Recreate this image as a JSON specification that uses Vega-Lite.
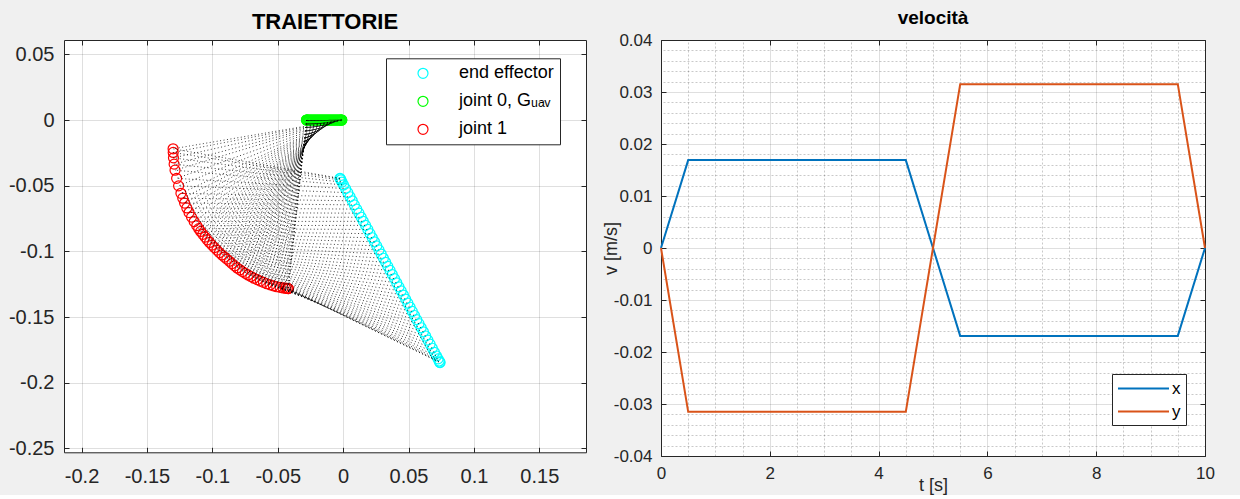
{
  "$schema": "https://vega.github.io/schema/vega-lite/v6.json",
  "background": "#f0f0f0",
  "padding": {"left": 8, "top": 9, "right": 25, "bottom": 1},
  "config": {
    "font": "Liberation Sans",
    "view": {"stroke": null, "fill": "white"},
    "concat": {"spacing": 15}
  },
  "resolve": {"scale": {"color": "independent"}, "legend": {"color": "independent"}},
  "datasets": {
    "arm": [
      {"k":0,"j":0,"joint":"joint 0","x":-0.0010,"y":0},{"k":0,"j":1,"joint":"joint 1","x":-0.1300,"y":-0.0219},{"k":0,"j":2,"joint":"end effector","x":-0.0024,"y":-0.0444},
      {"k":1,"j":0,"joint":"joint 0","x":-0.0011,"y":0},{"k":1,"j":1,"joint":"joint 1","x":-0.1299,"y":-0.0247},{"k":1,"j":2,"joint":"end effector","x":-0.0022,"y":-0.0447},
      {"k":2,"j":0,"joint":"joint 0","x":-0.0012,"y":0},{"k":2,"j":1,"joint":"joint 1","x":-0.1297,"y":-0.0288},{"k":2,"j":2,"joint":"end effector","x":-0.0017,"y":-0.0456},
      {"k":3,"j":0,"joint":"joint 0","x":-0.0015,"y":0},{"k":3,"j":1,"joint":"joint 1","x":-0.1292,"y":-0.0336},{"k":3,"j":2,"joint":"end effector","x":-0.0009,"y":-0.0472},
      {"k":4,"j":0,"joint":"joint 0","x":-0.0020,"y":0},{"k":4,"j":1,"joint":"joint 1","x":-0.1285,"y":-0.0382},{"k":4,"j":2,"joint":"end effector","x":0.0003,"y":-0.0494},
      {"k":5,"j":0,"joint":"joint 0","x":-0.0025,"y":0},{"k":5,"j":1,"joint":"joint 1","x":-0.1273,"y":-0.0444},{"k":5,"j":2,"joint":"end effector","x":0.0019,"y":-0.0522},
      {"k":6,"j":0,"joint":"joint 0","x":-0.0031,"y":0},{"k":6,"j":1,"joint":"joint 1","x":-0.1258,"y":-0.0501},{"k":6,"j":2,"joint":"end effector","x":0.0036,"y":-0.0553},
      {"k":7,"j":0,"joint":"joint 0","x":-0.0037,"y":0},{"k":7,"j":1,"joint":"joint 1","x":-0.1240,"y":-0.0558},{"k":7,"j":2,"joint":"end effector","x":0.0053,"y":-0.0584},
      {"k":8,"j":0,"joint":"joint 0","x":-0.0043,"y":0},{"k":8,"j":1,"joint":"joint 1","x":-0.1226,"y":-0.0595},{"k":8,"j":2,"joint":"end effector","x":0.0070,"y":-0.0615},
      {"k":9,"j":0,"joint":"joint 0","x":-0.0049,"y":0},{"k":9,"j":1,"joint":"joint 1","x":-0.1212,"y":-0.0632},{"k":9,"j":2,"joint":"end effector","x":0.0086,"y":-0.0646},
      {"k":10,"j":0,"joint":"joint 0","x":-0.0055,"y":0},{"k":10,"j":1,"joint":"joint 1","x":-0.1195,"y":-0.0669},{"k":10,"j":2,"joint":"end effector","x":0.0104,"y":-0.0678},
      {"k":11,"j":0,"joint":"joint 0","x":-0.0061,"y":0},{"k":11,"j":1,"joint":"joint 1","x":-0.1178,"y":-0.0704},{"k":11,"j":2,"joint":"end effector","x":0.0121,"y":-0.0709},
      {"k":12,"j":0,"joint":"joint 0","x":-0.0067,"y":0},{"k":12,"j":1,"joint":"joint 1","x":-0.1159,"y":-0.0739},{"k":12,"j":2,"joint":"end effector","x":0.0138,"y":-0.0740},
      {"k":13,"j":0,"joint":"joint 0","x":-0.0073,"y":0},{"k":13,"j":1,"joint":"joint 1","x":-0.1139,"y":-0.0773},{"k":13,"j":2,"joint":"end effector","x":0.0154,"y":-0.0771},
      {"k":14,"j":0,"joint":"joint 0","x":-0.0079,"y":0},{"k":14,"j":1,"joint":"joint 1","x":-0.1119,"y":-0.0804},{"k":14,"j":2,"joint":"end effector","x":0.0172,"y":-0.0802},
      {"k":15,"j":0,"joint":"joint 0","x":-0.0085,"y":0},{"k":15,"j":1,"joint":"joint 1","x":-0.1104,"y":-0.0827},{"k":15,"j":2,"joint":"end effector","x":0.0189,"y":-0.0833},
      {"k":16,"j":0,"joint":"joint 0","x":-0.0091,"y":0},{"k":16,"j":1,"joint":"joint 1","x":-0.1089,"y":-0.0848},{"k":16,"j":2,"joint":"end effector","x":0.0206,"y":-0.0865},
      {"k":17,"j":0,"joint":"joint 0","x":-0.0097,"y":0},{"k":17,"j":1,"joint":"joint 1","x":-0.1073,"y":-0.0870},{"k":17,"j":2,"joint":"end effector","x":0.0223,"y":-0.0896},
      {"k":18,"j":0,"joint":"joint 0","x":-0.0103,"y":0},{"k":18,"j":1,"joint":"joint 1","x":-0.1056,"y":-0.0891},{"k":18,"j":2,"joint":"end effector","x":0.0240,"y":-0.0927},
      {"k":19,"j":0,"joint":"joint 0","x":-0.0109,"y":0},{"k":19,"j":1,"joint":"joint 1","x":-0.1039,"y":-0.0912},{"k":19,"j":2,"joint":"end effector","x":0.0257,"y":-0.0958},
      {"k":20,"j":0,"joint":"joint 0","x":-0.0115,"y":0},{"k":20,"j":1,"joint":"joint 1","x":-0.1021,"y":-0.0932},{"k":20,"j":2,"joint":"end effector","x":0.0274,"y":-0.0989},
      {"k":21,"j":0,"joint":"joint 0","x":-0.0121,"y":0},{"k":21,"j":1,"joint":"joint 1","x":-0.1003,"y":-0.0952},{"k":21,"j":2,"joint":"end effector","x":0.0291,"y":-0.1020},
      {"k":22,"j":0,"joint":"joint 0","x":-0.0127,"y":0},{"k":22,"j":1,"joint":"joint 1","x":-0.0984,"y":-0.0971},{"k":22,"j":2,"joint":"end effector","x":0.0308,"y":-0.1052},
      {"k":23,"j":0,"joint":"joint 0","x":-0.0133,"y":0},{"k":23,"j":1,"joint":"joint 1","x":-0.0965,"y":-0.0990},{"k":23,"j":2,"joint":"end effector","x":0.0325,"y":-0.1083},
      {"k":24,"j":0,"joint":"joint 0","x":-0.0139,"y":0},{"k":24,"j":1,"joint":"joint 1","x":-0.0946,"y":-0.1009},{"k":24,"j":2,"joint":"end effector","x":0.0342,"y":-0.1114},
      {"k":25,"j":0,"joint":"joint 0","x":-0.0145,"y":0},{"k":25,"j":1,"joint":"joint 1","x":-0.0926,"y":-0.1027},{"k":25,"j":2,"joint":"end effector","x":0.0359,"y":-0.1145},
      {"k":26,"j":0,"joint":"joint 0","x":-0.0151,"y":0},{"k":26,"j":1,"joint":"joint 1","x":-0.0907,"y":-0.1043},{"k":26,"j":2,"joint":"end effector","x":0.0376,"y":-0.1176},
      {"k":27,"j":0,"joint":"joint 0","x":-0.0157,"y":0},{"k":27,"j":1,"joint":"joint 1","x":-0.0889,"y":-0.1059},{"k":27,"j":2,"joint":"end effector","x":0.0393,"y":-0.1207},
      {"k":28,"j":0,"joint":"joint 0","x":-0.0163,"y":0},{"k":28,"j":1,"joint":"joint 1","x":-0.0869,"y":-0.1075},{"k":28,"j":2,"joint":"end effector","x":0.0410,"y":-0.1239},
      {"k":29,"j":0,"joint":"joint 0","x":-0.0169,"y":0},{"k":29,"j":1,"joint":"joint 1","x":-0.0850,"y":-0.1093},{"k":29,"j":2,"joint":"end effector","x":0.0427,"y":-0.1270},
      {"k":30,"j":0,"joint":"joint 0","x":-0.0175,"y":0},{"k":30,"j":1,"joint":"joint 1","x":-0.0830,"y":-0.1110},{"k":30,"j":2,"joint":"end effector","x":0.0444,"y":-0.1301},
      {"k":31,"j":0,"joint":"joint 0","x":-0.0181,"y":0},{"k":31,"j":1,"joint":"joint 1","x":-0.0810,"y":-0.1126},{"k":31,"j":2,"joint":"end effector","x":0.0461,"y":-0.1332},
      {"k":32,"j":0,"joint":"joint 0","x":-0.0187,"y":0},{"k":32,"j":1,"joint":"joint 1","x":-0.0789,"y":-0.1140},{"k":32,"j":2,"joint":"end effector","x":0.0478,"y":-0.1363},
      {"k":33,"j":0,"joint":"joint 0","x":-0.0193,"y":0},{"k":33,"j":1,"joint":"joint 1","x":-0.0769,"y":-0.1154},{"k":33,"j":2,"joint":"end effector","x":0.0495,"y":-0.1394},
      {"k":34,"j":0,"joint":"joint 0","x":-0.0199,"y":0},{"k":34,"j":1,"joint":"joint 1","x":-0.0748,"y":-0.1167},{"k":34,"j":2,"joint":"end effector","x":0.0512,"y":-0.1425},
      {"k":35,"j":0,"joint":"joint 0","x":-0.0205,"y":0},{"k":35,"j":1,"joint":"joint 1","x":-0.0727,"y":-0.1179},{"k":35,"j":2,"joint":"end effector","x":0.0529,"y":-0.1457},
      {"k":36,"j":0,"joint":"joint 0","x":-0.0211,"y":0},{"k":36,"j":1,"joint":"joint 1","x":-0.0705,"y":-0.1191},{"k":36,"j":2,"joint":"end effector","x":0.0546,"y":-0.1488},
      {"k":37,"j":0,"joint":"joint 0","x":-0.0217,"y":0},{"k":37,"j":1,"joint":"joint 1","x":-0.0682,"y":-0.1204},{"k":37,"j":2,"joint":"end effector","x":0.0563,"y":-0.1519},
      {"k":38,"j":0,"joint":"joint 0","x":-0.0223,"y":0},{"k":38,"j":1,"joint":"joint 1","x":-0.0657,"y":-0.1215},{"k":38,"j":2,"joint":"end effector","x":0.0580,"y":-0.1550},
      {"k":39,"j":0,"joint":"joint 0","x":-0.0229,"y":0},{"k":39,"j":1,"joint":"joint 1","x":-0.0633,"y":-0.1226},{"k":39,"j":2,"joint":"end effector","x":0.0597,"y":-0.1581},
      {"k":40,"j":0,"joint":"joint 0","x":-0.0235,"y":0},{"k":40,"j":1,"joint":"joint 1","x":-0.0609,"y":-0.1236},{"k":40,"j":2,"joint":"end effector","x":0.0614,"y":-0.1612},
      {"k":41,"j":0,"joint":"joint 0","x":-0.0241,"y":0},{"k":41,"j":1,"joint":"joint 1","x":-0.0584,"y":-0.1246},{"k":41,"j":2,"joint":"end effector","x":0.0631,"y":-0.1644},
      {"k":42,"j":0,"joint":"joint 0","x":-0.0247,"y":0},{"k":42,"j":1,"joint":"joint 1","x":-0.0558,"y":-0.1255},{"k":42,"j":2,"joint":"end effector","x":0.0648,"y":-0.1675},
      {"k":43,"j":0,"joint":"joint 0","x":-0.0253,"y":0},{"k":43,"j":1,"joint":"joint 1","x":-0.0533,"y":-0.1262},{"k":43,"j":2,"joint":"end effector","x":0.0665,"y":-0.1706},
      {"k":44,"j":0,"joint":"joint 0","x":-0.0259,"y":0},{"k":44,"j":1,"joint":"joint 1","x":-0.0508,"y":-0.1269},{"k":44,"j":2,"joint":"end effector","x":0.0682,"y":-0.1737},
      {"k":45,"j":0,"joint":"joint 0","x":-0.0265,"y":0},{"k":45,"j":1,"joint":"joint 1","x":-0.0482,"y":-0.1274},{"k":45,"j":2,"joint":"end effector","x":0.0698,"y":-0.1768},
      {"k":46,"j":0,"joint":"joint 0","x":-0.0270,"y":0},{"k":46,"j":1,"joint":"joint 1","x":-0.0459,"y":-0.1278},{"k":46,"j":2,"joint":"end effector","x":0.0714,"y":-0.1796},
      {"k":47,"j":0,"joint":"joint 0","x":-0.0275,"y":0},{"k":47,"j":1,"joint":"joint 1","x":-0.0441,"y":-0.1280},{"k":47,"j":2,"joint":"end effector","x":0.0726,"y":-0.1818},
      {"k":48,"j":0,"joint":"joint 0","x":-0.0278,"y":0},{"k":48,"j":1,"joint":"joint 1","x":-0.0428,"y":-0.1282},{"k":48,"j":2,"joint":"end effector","x":0.0734,"y":-0.1834},
      {"k":49,"j":0,"joint":"joint 0","x":-0.0279,"y":0},{"k":49,"j":1,"joint":"joint 1","x":-0.0420,"y":-0.1283},{"k":49,"j":2,"joint":"end effector","x":0.0739,"y":-0.1843},
      {"k":50,"j":0,"joint":"joint 0","x":-0.0280,"y":0},{"k":50,"j":1,"joint":"joint 1","x":-0.0419,"y":-0.1283},{"k":50,"j":2,"joint":"end effector","x":0.0741,"y":-0.1846}
    ],
    "vel": [
      {"s":"x","t":0,"v":0},{"s":"x","t":0.5,"v":0.0169},{"s":"x","t":4.5,"v":0.0169},{"s":"x","t":5.5,"v":-0.0169},{"s":"x","t":9.5,"v":-0.0169},{"s":"x","t":10,"v":0},
      {"s":"y","t":0,"v":0},{"s":"y","t":0.5,"v":-0.0315},{"s":"y","t":4.5,"v":-0.0315},{"s":"y","t":5.5,"v":0.0315},{"s":"y","t":9.5,"v":0.0315},{"s":"y","t":10,"v":0}
    ]
  },
  "hconcat": [
    {
      "width": 522,
      "height": 412.3,
      "title": {"text": "TRAIETTORIE", "fontSize": 22, "fontWeight": "bold", "color": "#000000", "offset": 5.3, "frame": "group", "anchor": "middle"},
      "data": {"name": "arm"},
      "layer": [
        {
          "mark": {"type": "point", "filled": false, "shape": "circle", "size": 100, "strokeWidth": 1.2, "opacity": 1},
          "encoding": {
            "x": {"field": "x", "type": "quantitative", "scale": {"domain": [-0.2134, 0.1857], "nice": false, "zero": false},
              "axis": {"orient": "top", "values": [-0.2,-0.15,-0.1,-0.05,0,0.05,0.1,0.15], "labels": false, "tickSize": -5, "tickColor": "#262626", "domainColor": "#262626", "grid": false, "title": null}},
            "y": {"field": "y", "type": "quantitative", "scale": {"domain": [-0.2529, 0.0609], "nice": false, "zero": false},
              "axis": {"orient": "right", "values": [-0.25,-0.2,-0.15,-0.1,-0.05,0,0.05], "labels": false, "tickSize": -5, "tickColor": "#262626", "domainColor": "#262626", "grid": false, "title": null}},
            "color": {"field": "joint", "type": "nominal",
              "scale": {"domain": ["end effector", "joint 0", "joint 1"], "range": ["#00FFFF", "#00FF00", "#FF0000"]},
              "legend": {"orient": "none", "legendX": 322, "legendY": 18.3, "title": null, "labelFontSize": 18, "labelColor": "#000000",
                "labelExpr": "datum.label == 'joint 0' ? 'joint 0, Gᵤₐᵥ' : datum.label",
                "symbolType": "circle", "symbolSize": 100, "symbolStrokeWidth": 1.2, "padding": 6, "rowPadding": 10, "symbolOffset": 22, "labelOffset": 27,
                "strokeColor": "#262626", "fillColor": "white"}}
          }
        },
        {
          "mark": {"type": "line", "color": "#000000", "strokeWidth": 1, "strokeDash": [1, 2.5], "opacity": 0.75},
          "encoding": {
            "x": {"field": "x", "type": "quantitative", "scale": {"domain": [-0.2134, 0.1857], "nice": false, "zero": false},
              "axis": {"orient": "bottom", "values": [-0.2,-0.15,-0.1,-0.05,0,0.05,0.1,0.15], "format": ".2~f", "labelExpr": "replace(datum.label, '−', '-')",
                "labelFontSize": 20, "labelColor": "#262626", "labelPadding": 19, "labelFlush": false, "labelOverlap": false,
                "tickSize": -5, "tickColor": "#262626", "domainColor": "#262626", "grid": true, "gridColor": "#262626", "gridOpacity": 0.15, "title": null}},
            "y": {"field": "y", "type": "quantitative", "scale": {"domain": [-0.2529, 0.0609], "nice": false, "zero": false},
              "axis": {"orient": "left", "values": [-0.25,-0.2,-0.15,-0.1,-0.05,0,0.05], "format": ".2~f", "labelExpr": "replace(datum.label, '−', '-')",
                "labelFontSize": 20, "labelColor": "#262626", "labelPadding": 15, "labelFlush": false, "labelOverlap": false,
                "tickSize": -5, "tickColor": "#262626", "domainColor": "#262626", "grid": true, "gridColor": "#262626", "gridOpacity": 0.15, "title": null}},
            "detail": {"field": "k", "type": "nominal"},
            "order": {"field": "j", "type": "quantitative"}
          }
        }
      ],
      "resolve": {"axis": {"x": "independent", "y": "independent"}}
    },
    {
      "width": 544,
      "height": 416,
      "title": {"text": "velocità", "fontSize": 19, "fontWeight": "bold", "color": "#000000", "offset": 3, "frame": "group", "anchor": "middle"},
      "data": {"name": "vel"},
      "layer": [
        {
          "mark": {"type": "line", "strokeWidth": 2},
          "encoding": {
            "x": {"field": "t", "type": "quantitative", "scale": {"domain": [0, 10], "nice": false, "zero": false},
              "axis": {"orient": "bottom", "values": [0,2,4,6,8,10], "labelFontSize": 17, "labelColor": "#262626", "labelPadding": 14, "labelFlush": false, "labelOverlap": false,
                "tickSize": -5, "tickColor": "#262626", "domainColor": "#262626", "grid": false,
                "title": "t [s]", "titleFontSize": 18, "titleFontWeight": "normal", "titleColor": "#262626", "titleY": 20}},
            "y": {"field": "v", "type": "quantitative", "scale": {"domain": [-0.04, 0.04], "nice": false, "zero": false},
              "axis": {"orient": "left", "values": [-0.04,-0.03,-0.02,-0.01,0,0.01,0.02,0.03,0.04], "format": ".2~f", "labelExpr": "replace(datum.label, '−', '-')",
                "labelFontSize": 17, "labelColor": "#262626", "labelPadding": 14, "labelFlush": false, "labelOverlap": false,
                "tickSize": -5, "tickColor": "#262626", "domainColor": "#262626", "grid": false,
                "title": "v [m/s]", "titleFontSize": 18, "titleFontWeight": "normal", "titleColor": "#262626", "titleX": -50, "titleY": 208, "titleBaseline": "middle"}},
            "color": {"field": "s", "type": "nominal", "scale": {"domain": ["x", "y"], "range": ["#0072BD", "#D95319"]},
              "legend": {"orient": "none", "legendX": 451, "legendY": 334, "title": null, "labelFontSize": 17, "labelColor": "#000000",
                "symbolType": "M-3,0L3,0", "symbolSize": 289, "symbolStrokeWidth": 2, "padding": 5, "rowPadding": 5, "symbolOffset": 17, "labelOffset": 19,
                "strokeColor": "#262626", "fillColor": "white"}}
          }
        },
        {
          "mark": {"type": "line", "opacity": 0},
          "encoding": {
            "x": {"field": "t", "type": "quantitative", "scale": {"domain": [0, 10], "nice": false, "zero": false},
              "axis": {"orient": "top", "values": [0,0.5,1,1.5,2,2.5,3,3.5,4,4.5,5,5.5,6,6.5,7,7.5,8,8.5,9,9.5,10], "labels": false,
                "tickSize": -5, "tickColor": "#262626", "tickOpacity": {"condition": {"test": "datum.value % 2 === 0", "value": 1}, "value": 0},
                "domainColor": "#262626", "grid": true, "gridColor": "#262626",
                "gridOpacity": {"condition": {"test": "datum.value % 2 === 0", "value": 0.15}, "value": 0.25},
                "gridDash": {"condition": {"test": "datum.value % 2 === 0", "value": []}, "value": [2, 2]},
                "title": null}},
            "y": {"field": "v", "type": "quantitative", "scale": {"domain": [-0.04, 0.04], "nice": false, "zero": false},
              "axis": {"orient": "right", "values": [-0.04,-0.038,-0.036,-0.034,-0.032,-0.03,-0.028,-0.026,-0.024,-0.022,-0.02,-0.018,-0.016,-0.014,-0.012,-0.01,-0.008,-0.006,-0.004,-0.002,0,0.002,0.004,0.006,0.008,0.01,0.012,0.014,0.016,0.018,0.02,0.022,0.024,0.026,0.028,0.03,0.032,0.034,0.036,0.038,0.04], "labels": false,
                "tickSize": -5, "tickColor": "#262626", "tickOpacity": {"condition": {"test": "abs(datum.value*100 - round(datum.value*100)) < 0.01", "value": 1}, "value": 0},
                "domainColor": "#262626", "grid": true, "gridColor": "#262626",
                "gridOpacity": {"condition": {"test": "abs(datum.value*100 - round(datum.value*100)) < 0.01", "value": 0.15}, "value": 0.25},
                "gridDash": {"condition": {"test": "abs(datum.value*100 - round(datum.value*100)) < 0.01", "value": []}, "value": [2, 2]},
                "title": null}},
            "detail": {"field": "s", "type": "nominal"}
          }
        }
      ],
      "resolve": {"axis": {"x": "independent", "y": "independent"}}
    }
  ]
}
